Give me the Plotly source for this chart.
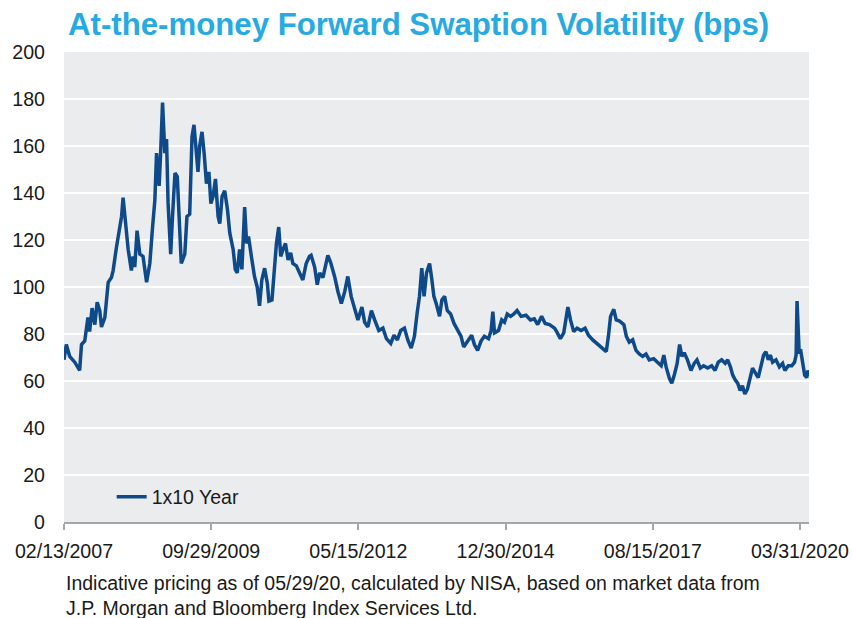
import plotly.graph_objects as go

# ---- data ----
dates = [
    "2007-02-13", "2007-02-28", "2007-03-22", "2007-04-24", "2007-05-26", "2007-06-07", "2007-06-28",
    "2007-07-19", "2007-07-30", "2007-08-15", "2007-09-02", "2007-09-17", "2007-10-04", "2007-10-15",
    "2007-11-06", "2007-11-28", "2007-12-19", "2007-12-30", "2008-01-21", "2008-02-08", "2008-02-23",
    "2008-03-04", "2008-03-14", "2008-03-25", "2008-04-06", "2008-04-27", "2008-05-08", "2008-05-19",
    "2008-06-03", "2008-06-21", "2008-07-12", "2008-08-04", "2008-08-25", "2008-09-12", "2008-09-27",
    "2008-10-08", "2008-10-25", "2008-11-03", "2008-11-16", "2008-12-01", "2008-12-12", "2008-12-22",
    "2009-01-08", "2009-01-20", "2009-02-05", "2009-02-20", "2009-03-03", "2009-03-18", "2009-04-10",
    "2009-04-24", "2009-05-12", "2009-05-27", "2009-06-09", "2009-06-25", "2009-07-05", "2009-07-16",
    "2009-07-31", "2009-08-14", "2009-08-29", "2009-09-14", "2009-09-27", "2009-10-11", "2009-10-27",
    "2009-11-13", "2009-11-24", "2009-12-09", "2009-12-26", "2010-01-13", "2010-01-28", "2010-02-19",
    "2010-03-05", "2010-03-18", "2010-04-02", "2010-04-17", "2010-05-05", "2010-05-18", "2010-05-30",
    "2010-06-18", "2010-07-08", "2010-07-26", "2010-08-10", "2010-08-25", "2010-09-12", "2010-09-30",
    "2010-10-10", "2010-10-30", "2010-11-12", "2010-11-28", "2010-12-13", "2010-12-26", "2011-01-10",
    "2011-01-26", "2011-02-12", "2011-03-01", "2011-03-15", "2011-04-07", "2011-04-28", "2011-05-19",
    "2011-06-10", "2011-07-01", "2011-07-12", "2011-08-04", "2011-08-21", "2011-09-06", "2011-09-27",
    "2011-10-29", "2011-11-16", "2011-12-12", "2012-01-03", "2012-01-25", "2012-02-16", "2012-03-07",
    "2012-03-29", "2012-04-20", "2012-05-12", "2012-06-07", "2012-06-25", "2012-07-16", "2012-08-08",
    "2012-08-29", "2012-09-25", "2012-10-22", "2012-11-14", "2012-12-12", "2013-01-02", "2013-01-24",
    "2013-02-15", "2013-03-11", "2013-04-02", "2013-04-24", "2013-05-15", "2013-06-02", "2013-06-17",
    "2013-07-02", "2013-07-17", "2013-08-02", "2013-08-22", "2013-09-06", "2013-09-19", "2013-10-04",
    "2013-10-26", "2013-11-10", "2013-11-28", "2013-12-15", "2014-01-06", "2014-01-28", "2014-02-23",
    "2014-03-15", "2014-04-01", "2014-04-27", "2014-05-23", "2014-06-10", "2014-07-01", "2014-07-23",
    "2014-08-14", "2014-09-10", "2014-09-27", "2014-10-08", "2014-10-19", "2014-11-14", "2014-12-05",
    "2014-12-23", "2015-01-10", "2015-02-01", "2015-02-22", "2015-03-15", "2015-04-10", "2015-05-12",
    "2015-06-10", "2015-07-05", "2015-07-27", "2015-08-22", "2015-09-14", "2015-10-12", "2015-11-14",
    "2015-11-28", "2015-12-22", "2016-01-13", "2016-02-09", "2016-02-26", "2016-03-18", "2016-04-09",
    "2016-05-05", "2016-05-31", "2016-06-22", "2016-07-20", "2016-08-22", "2016-09-17", "2016-10-16",
    "2016-10-30", "2016-11-13", "2016-12-04", "2016-12-20", "2017-01-11", "2017-02-08", "2017-02-24",
    "2017-03-15", "2017-04-06", "2017-04-28", "2017-05-19", "2017-06-10", "2017-07-02", "2017-07-23",
    "2017-08-21", "2017-09-17", "2017-10-09", "2017-10-26", "2017-11-10", "2017-12-02", "2017-12-17",
    "2018-01-04", "2018-01-21", "2018-02-06", "2018-02-21", "2018-03-08", "2018-03-29", "2018-04-21",
    "2018-05-12", "2018-05-30", "2018-06-21", "2018-07-12", "2018-08-08", "2018-09-03", "2018-09-25",
    "2018-10-16", "2018-11-07", "2018-11-30", "2018-12-16", "2019-01-03", "2019-01-18", "2019-02-03",
    "2019-02-20", "2019-03-07", "2019-03-22", "2019-04-07", "2019-04-24", "2019-05-12", "2019-05-27",
    "2019-06-18", "2019-07-03", "2019-07-20", "2019-08-07", "2019-08-22", "2019-09-07", "2019-09-20",
    "2019-10-05", "2019-10-27", "2019-11-18", "2019-12-09", "2019-12-24", "2020-01-15", "2020-02-07",
    "2020-02-25", "2020-03-06", "2020-03-12", "2020-03-18", "2020-03-26", "2020-04-06", "2020-04-17",
    "2020-05-01", "2020-05-15", "2020-05-22", "2020-05-29",
]

vol_1x10 = [
    69, 75.5, 70.5, 68, 64.5, 75.5, 77,
    87, 81, 91, 84, 93.5, 90, 83,
    87, 102, 104, 107, 117, 124, 130,
    138, 130, 124, 116, 107, 113, 108.5,
    124, 114, 113, 102, 110, 125.5, 137,
    157, 143, 156, 178.5, 157, 163, 136,
    114, 130, 148.5, 147, 130, 110, 114,
    130, 131, 164, 169, 155.5, 149, 160,
    166, 157, 144, 149, 135.5, 138.5, 146,
    130, 127, 138.5, 141, 133, 123, 116,
    107.5, 106, 116, 107.5, 134, 118.5, 121.5,
    113, 104.5, 100, 92, 103, 108, 101.5,
    94, 94.5, 106, 118.5, 125.5, 113, 116,
    118.5, 111.5, 114.5, 110, 109, 106, 103,
    110, 113, 113.5, 108.5, 101, 106, 104,
    113.5, 110.5, 104.5, 98, 93, 98, 104.5,
    96, 91.5, 86, 91.5, 85, 83, 90,
    86, 81.5, 82.5, 78, 76, 79.5, 77.5,
    81.5, 82.5, 77.5, 74, 79, 89, 96,
    108, 96, 106, 110, 103, 96, 93,
    87.5, 94.5, 96, 90, 88.5, 84.5, 81.5,
    79, 74.5, 77, 79.5, 75.5, 73, 77,
    79, 78, 81.5, 89.5, 80.5, 81.5, 86,
    85, 88.5, 87.5, 88.5, 90, 87.5, 88,
    86, 86.5, 84, 87.5, 84.5, 84, 82.5,
    81, 78, 80.5, 91.5, 86, 81, 82.5,
    81.5, 82.5, 79.5, 77.5, 75.5, 74, 72.5,
    79, 87.5, 90.5, 86, 85.5, 84, 79,
    76.5, 77.5, 73, 71.5, 70.5, 71.5, 69,
    69.5, 68, 66.5, 71, 66, 61, 59,
    63, 67.5, 75.5, 70.5, 72, 69, 64.5,
    67.5, 69, 65.5, 66.5, 65.5, 66.5, 64.5,
    68, 69, 67.5, 69, 66, 62.5, 60.5,
    59, 56, 58, 54.5, 56.5, 61.5, 65.5,
    63, 61.5, 66, 71, 72.5, 69, 71,
    68, 69, 66, 67.5, 64.5, 66.5, 66.5,
    68, 71, 94, 85, 72, 72.5, 67.5,
    62.5, 61.5, 64.5, 62,
]

series_name = "1x10 Year"
tick_dates = ["2007-02-13", "2009-09-29", "2012-05-15", "2014-12-30", "2017-08-15", "2020-03-31"]
tick_labels = ["02/13/2007", "09/29/2009", "05/15/2012", "12/30/2014", "08/15/2017", "03/31/2020"]
y_ticks = list(range(0, 201, 20))

title_text = "At-the-money Forward Swaption Volatility (bps)"
footnote_1 = "Indicative pricing as of 05/29/20, calculated by NISA, based on market data from"
footnote_2 = "J.P. Morgan and Bloomberg Index Services Ltd."

FONT = "Liberation Sans, Arial, sans-serif"
TXT = "#1a1a1a"

fig = go.Figure()
fig.add_trace(go.Scatter(
    x=dates, y=vol_1x10, mode="lines", name=series_name,
    line=dict(color="#0E4A8A", width=3.5),
))

fig.update_layout(
    width=852, height=618,
    margin=dict(l=64, r=43, t=52, b=96, autoexpand=False),
    paper_bgcolor="white",
    plot_bgcolor="#EBECEE",
    font=dict(family=FONT, size=19, color=TXT),
    title=dict(
        text="<b>" + title_text + "</b>",
        font=dict(family=FONT, size=31.2, color="#27AAE1"),
        x=68 / 852, xanchor="left", xref="container",
        y=1 - 24 / 618, yanchor="middle", yref="container",
        pad=dict(l=0, r=0, t=0, b=0),
    ),
    showlegend=True,
    legend=dict(
        x=0.064, y=0.053, xanchor="left", yanchor="middle",
        bgcolor="rgba(0,0,0,0)", font=dict(family=FONT, size=19.5, color=TXT),
    ),
    xaxis=dict(
        type="date",
        range=["2007-02-13", "2020-05-29"],
        tickvals=tick_dates, ticktext=tick_labels,
        showgrid=False, zeroline=False,
        showline=True, linecolor="#A6A6A6", linewidth=1.5,
        ticks="outside", ticklen=6, tickcolor="#A6A6A6", tickwidth=1.5,
        ticklabelstandoff=5,
        tickfont=dict(family=FONT, size=19.6, color=TXT),
        automargin=False, fixedrange=True,
    ),
    yaxis=dict(
        range=[0, 200], tickvals=y_ticks,
        showgrid=True, gridcolor="white", gridwidth=2,
        zeroline=False, showline=False, ticks="",
        ticklabelstandoff=18,
        tickfont=dict(family=FONT, size=19.6, color=TXT),
        automargin=False, fixedrange=True,
    ),
    annotations=[
        dict(text=footnote_1 + "<br>" + footnote_2,
             xref="paper", yref="paper", x=0.0, y=(522 - 595) / 470,
             xanchor="left", yanchor="middle", align="left", showarrow=False,
             font=dict(family=FONT, size=19.5, color=TXT)),
    ],
)

fig.write_html(
    "out.html",
    config={"displayModeBar": False},
    post_script="document.body.style.margin='0';document.body.style.padding='0';",
)
